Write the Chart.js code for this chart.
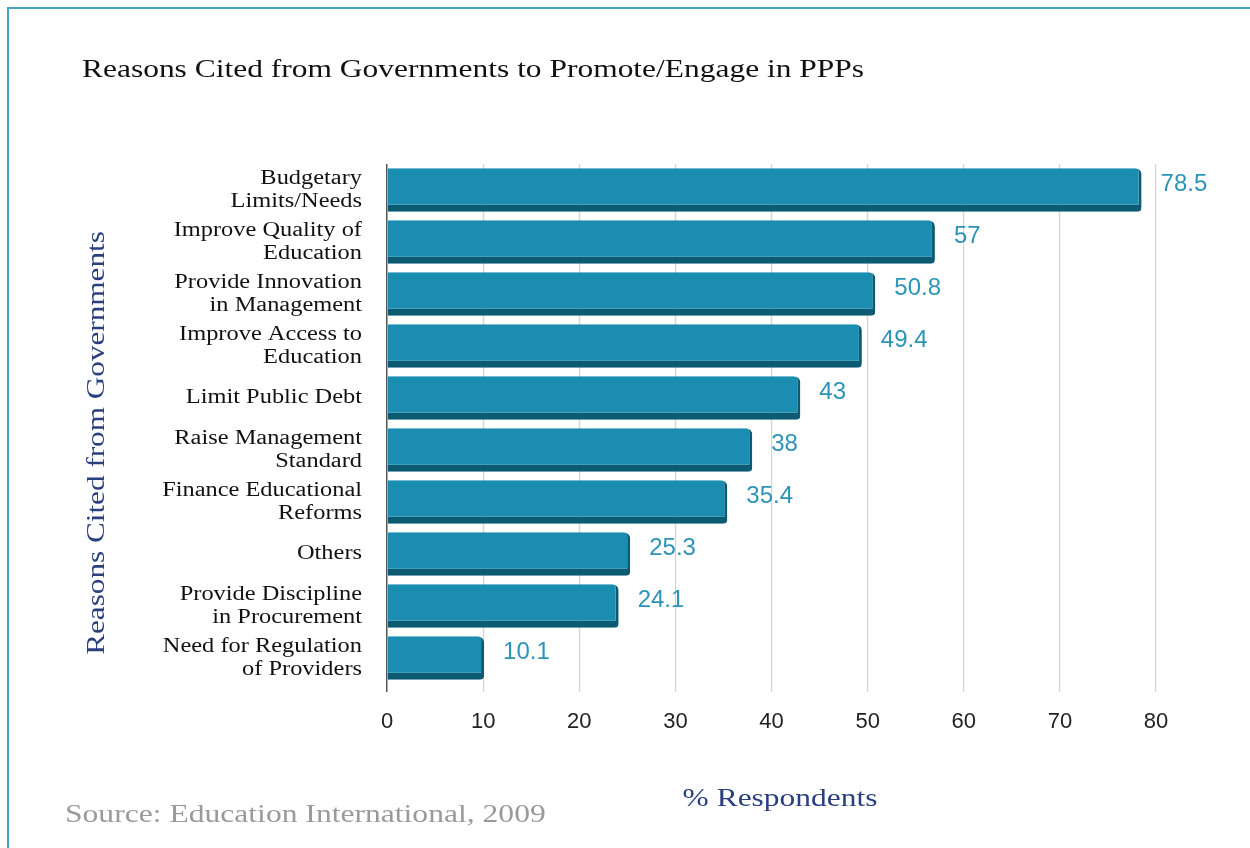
<!DOCTYPE html>
<html>
<head>
<meta charset="utf-8">
<script src="https://cdn.jsdelivr.net/npm/chart.js@4.4.1/dist/chart.umd.min.js"></script>
<style>
  html, body { margin: 0; padding: 0; background: #fff; }
  #wrap { width: 1250px; height: 848px; position: relative; }
</style>
</head>
<body>
<div id="wrap"><canvas id="c" width="1250" height="848"></canvas></div>
<script>
const categories = [
  ["Budgetary", "Limits/Needs"],
  ["Improve Quality of", "Education"],
  ["Provide Innovation", "in Management"],
  ["Improve Access to", "Education"],
  ["Limit Public Debt"],
  ["Raise Management", "Standard"],
  ["Finance Educational", "Reforms"],
  ["Others"],
  ["Provide Discipline", "in Procurement"],
  ["Need for Regulation", "of Providers"]
];
const values = [78.5, 57, 50.8, 49.4, 43, 38, 35.4, 25.3, 24.1, 10.1];
const xTicks = [0, 10, 20, 30, 40, 50, 60, 70, 80];

const titleText = "Reasons Cited from Governments to Promote/Engage in PPPs";
const yTitleText = "Reasons Cited from Governments";
const xTitleText = "% Respondents";
const sourceText = "Source: Education International, 2009";

const SERIF = "'Liberation Serif', 'DejaVu Serif', serif";
const SANS = "'Liberation Sans', Arial, sans-serif";

function stretchedText(ctx, text, x, y, align, sx) {
  ctx.save();
  ctx.translate(x, y);
  ctx.scale(sx, 1);
  ctx.textAlign = align;
  ctx.fillText(text, 0, 0);
  ctx.restore();
}

const decorPlugin = {
  id: 'decor',
  beforeDraw(chart) {
    const ctx = chart.ctx;
    ctx.save();
    ctx.fillStyle = '#fff';
    ctx.fillRect(0, 0, chart.width, chart.height);
    ctx.strokeStyle = '#4aa3c3';
    ctx.lineWidth = 2;
    ctx.beginPath();
    ctx.moveTo(8, 848);
    ctx.lineTo(8, 8);
    ctx.lineTo(1250, 8);
    ctx.stroke();
    ctx.restore();
  },
  afterDatasetsDraw(chart) {
    const ctx = chart.ctx;
    const meta = chart.getDatasetMeta(0);
    ctx.save();
    ctx.font = "24px " + SANS;
    ctx.fillStyle = '#2b94b8';
    ctx.textAlign = 'left';
    ctx.textBaseline = 'middle';
    meta.data.forEach((bar, i) => {
      ctx.fillText(String(values[i]), bar.x + 19, bar.y - 6);
    });
    ctx.restore();
  },
  afterDraw(chart) {
    const ctx = chart.ctx;
    ctx.save();
    ctx.textBaseline = 'alphabetic';
    ctx.fillStyle = '#111';
    ctx.font = "26px " + SERIF;
    stretchedText(ctx, titleText, 82, 77, 'left', 1.21);

    ctx.fillStyle = '#2a3f7e';
    ctx.font = "26px " + SERIF;
    stretchedText(ctx, xTitleText, 780, 806, 'center', 1.21);

    ctx.save();
    ctx.translate(104, 443);
    ctx.rotate(-Math.PI / 2);
    ctx.scale(1.2, 1);
    ctx.textAlign = 'center';
    ctx.fillText(yTitleText, 0, 0);
    ctx.restore();

    ctx.fillStyle = '#9a9a9a';
    ctx.font = "26px " + SERIF;
    stretchedText(ctx, sourceText, 65, 822, 'left', 1.215);
    ctx.restore();
  }
};

new Chart(document.getElementById('c'), {
  type: 'bar',
  data: {
    labels: categories,
    datasets: [{
      data: values,
      backgroundColor: '#1a8db0',
      borderColor: '#0c5b73',
      borderWidth: { top: 0, left: 0, right: 3, bottom: 7 },
      borderSkipped: false,
      borderRadius: { topRight: 6, bottomRight: 4, topLeft: 0, bottomLeft: 0 },
      barPercentage: 0.84,
      categoryPercentage: 1.0
    }]
  },
  options: {
    indexAxis: 'y',
    responsive: false,
    animation: false,
    layout: { padding: { top: 164, right: 94, bottom: 104, left: 0 } },
    plugins: {
      legend: { display: false },
      title: { display: false },
      tooltip: { enabled: false }
    },
    scales: {
      x: {
        min: 0,
        max: 80,
        afterFit(s) { s.height = 60; },
        afterBuildTicks(s) { s.ticks = xTicks.map(v => ({ value: v })); },
        grid: {
          color: (c) => c.tick && c.tick.value === 0 ? '#555' : '#d4d4d4',
          lineWidth: (c) => c.tick && c.tick.value === 0 ? 1.5 : 1.2,
          tickLength: 8,
          drawTicks: true
        },
        border: { display: false },
        ticks: {
          font: { family: SANS, size: 22 },
          color: '#222',
          padding: 17
        }
      },
      y: {
        afterFit(s) {
          s.width = 387;
          if (!s._stretched) {
            s._stretched = true;
            const orig = s.drawLabels;
            s.drawLabels = function (area) {
              const ctx = this.ctx;
              const ax = 362;
              ctx.save();
              ctx.translate(ax, 0);
              ctx.scale(1.22, 1);
              ctx.translate(-ax, 0);
              orig.call(this, area);
              ctx.restore();
            };
          }
        },
        grid: { display: false, drawTicks: false },
        border: { display: false },
        ticks: {
          font: { family: SERIF, size: 20, lineHeight: 1.15 },
          color: '#111',
          padding: 25,
          crossAlign: 'near'
        }
      }
    }
  },
  plugins: [decorPlugin]
});
</script>
</body>
</html>
